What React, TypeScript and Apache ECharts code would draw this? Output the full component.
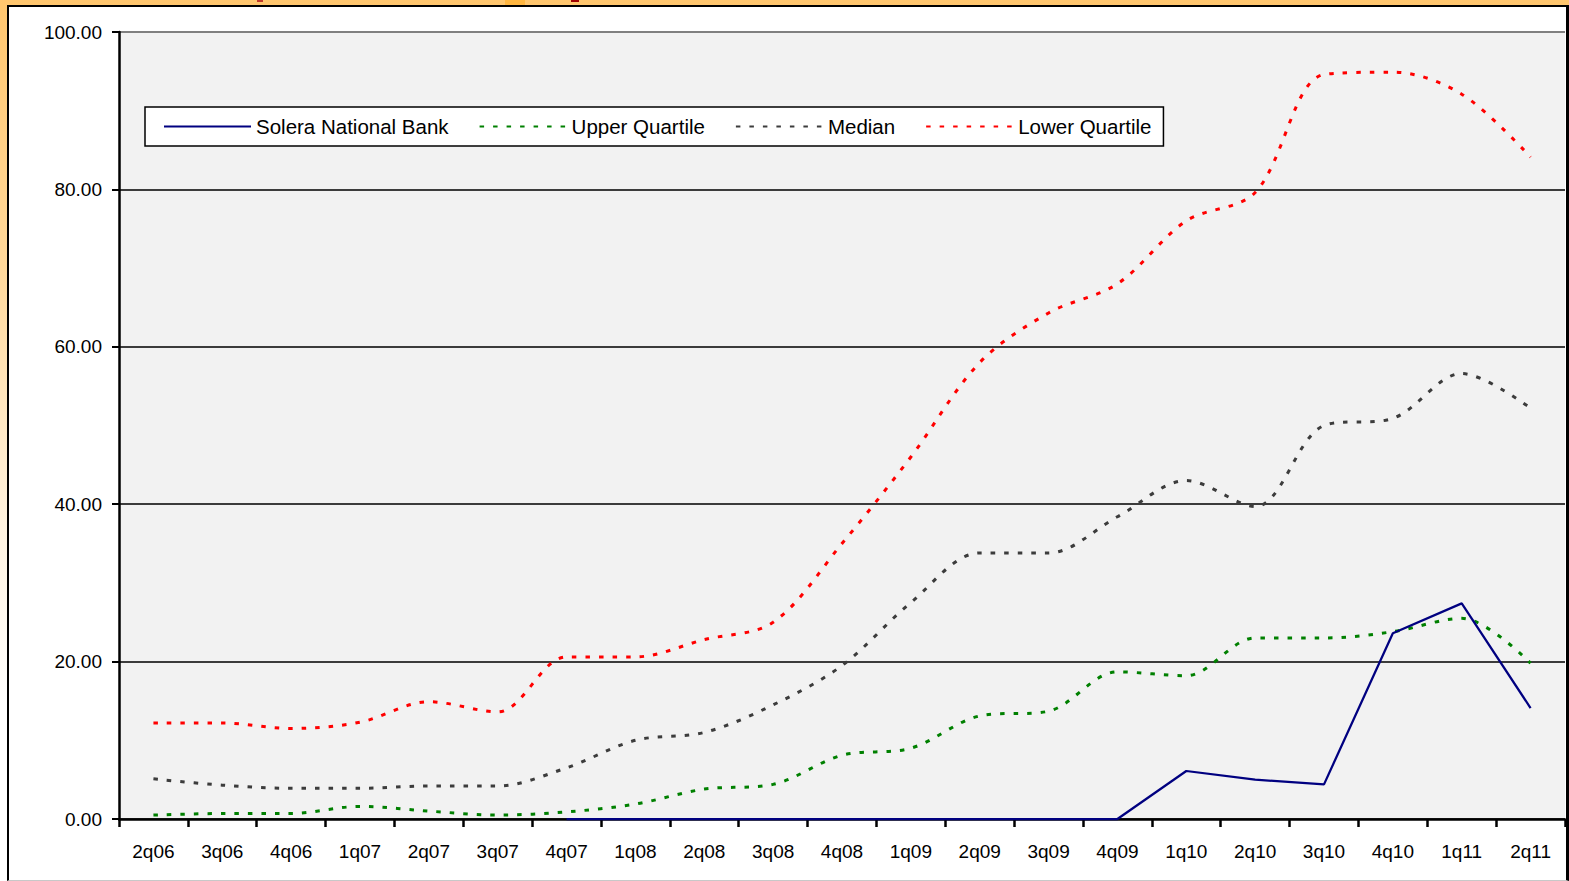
import React, { useEffect, useRef } from "react";
import * as echarts from "echarts";

const categories = ["2q06","3q06","4q06","1q07","2q07","3q07","4q07","1q08","2q08","3q08","4q08","1q09","2q09","3q09","4q09","1q10","2q10","3q10","4q10","1q11","2q11"];
const solera = [null,null,null,null,null,null,0,0,0,0,0,0,0,0,0,6.1,5.0,4.4,23.6,27.4,14.1];
const upperQuartile = [0.5,0.7,0.7,1.6,1.0,0.5,0.9,1.9,3.8,4.4,8.1,9.0,13.1,13.7,18.7,18.2,23.0,23.0,23.8,25.5,19.8];
const median = [5.1,4.3,3.9,3.9,4.2,4.2,6.5,10.0,11.0,14.5,19.5,27.5,33.8,33.8,38.4,43.0,39.7,50.0,50.9,56.6,52.2];
const lowerQuartile = [12.2,12.2,11.5,12.3,14.9,13.6,20.6,20.6,22.8,25.0,35.0,46.0,58.0,64.3,68.0,76.0,79.6,94.6,94.9,92.1,84.1];

const FONT = "'Liberation Sans', Arial, sans-serif";

export default function App() {
  const ref = useRef<HTMLDivElement>(null);
  useEffect(() => {
    document.body.style.margin = "0";
    const chart = echarts.init(ref.current!, null, { renderer: "svg" });
    const dotted = (color: string) => ({ color, width: 3, type: [4.5, 9] as any, cap: "butt" as any });
    chart.setOption({
      animation: false,
      grid: {
        left: 119, right: 4, top: 32, bottom: 62,
        show: true, backgroundColor: "#F2F2F2", borderWidth: 0,
      },
      legend: {
        left: 145, top: 107,
        padding: [9, 12, 9, 18],
        backgroundColor: "#FFFFFF",
        borderColor: "#000000", borderWidth: 1.5, borderRadius: 0,
        itemWidth: 87, itemHeight: 20, itemGap: 30,
        itemStyle: { opacity: 0 },
        textStyle: { fontFamily: FONT, fontSize: 20.5, color: "#000" },
        data: ["Solera National Bank", "Upper Quartile", "Median", "Lower Quartile"],
      },
      xAxis: {
        type: "category",
        data: categories,
        boundaryGap: true,
        axisLine: { lineStyle: { color: "#000", width: 2.5 } },
        axisTick: { show: true, length: 8, interval: 0, lineStyle: { color: "#000", width: 2.5 } },
        axisLabel: { interval: 0, margin: 23, fontFamily: FONT, fontSize: 19, color: "#000" },
        splitLine: { show: false },
      },
      yAxis: {
        type: "value",
        min: 0, max: 100, interval: 20,
        axisLine: { show: true, lineStyle: { color: "#000", width: 2.5 } },
        axisTick: { show: true, length: 7, lineStyle: { color: "#000", width: 2 } },
        axisLabel: { margin: 17, fontFamily: FONT, fontSize: 19, color: "#000", formatter: (v: number) => v.toFixed(2) },
        splitLine: { show: true, lineStyle: { color: ["#3c3c3c","#3c3c3c","#3c3c3c","#3c3c3c","#3c3c3c","#808080"], width: 2 } },
      },
      series: [
        { name: "Solera National Bank", type: "line", data: solera, symbol: "none", smooth: false, clip: false, z: 5,
          lineStyle: { color: "#000080", width: 2.25 }, itemStyle: { color: "#000080" } },
        { name: "Upper Quartile", type: "line", data: upperQuartile, symbol: "none", smooth: 0.33, clip: false,
          lineStyle: dotted("#008000"), itemStyle: { color: "#008000" } },
        { name: "Median", type: "line", data: median, symbol: "none", smooth: 0.33, clip: false,
          lineStyle: dotted("#3c3c3c"), itemStyle: { color: "#3c3c3c" } },
        { name: "Lower Quartile", type: "line", data: lowerQuartile, symbol: "none", smooth: 0.33, clip: false,
          lineStyle: dotted("#FF0000"), itemStyle: { color: "#FF0000" } },
      ],
    });
    return () => chart.dispose();
  }, []);

  return (
    <div style={{ position: "relative", width: 1569, height: 881, overflow: "hidden",
      background: "linear-gradient(to bottom, #FFC66E 0%, #FFD89A 30%, #FFF3E0 60%, #FFFFFF 80%)" }}>
      <div style={{ position: "absolute", left: 257, top: 0, width: 6, height: 2, background: "#C0392B" }} />
      <div style={{ position: "absolute", left: 505, top: 0, width: 20, height: 5, background: "#FFB640" }} />
      <div style={{ position: "absolute", left: 571, top: 0, width: 8, height: 2, background: "#A00000" }} />
      <div style={{ position: "absolute", left: 7, top: 5, width: 1562, height: 876, boxSizing: "border-box",
        borderTop: "2.5px solid #000", borderLeft: "2.5px solid #000", borderRight: "3px solid #000",
        borderBottom: "1px solid #c8c8c8", background: "#FFFFFF" }} />
      <div ref={ref} style={{ position: "absolute", left: 0, top: 0, width: 1569, height: 881 }} />
    </div>
  );
}
